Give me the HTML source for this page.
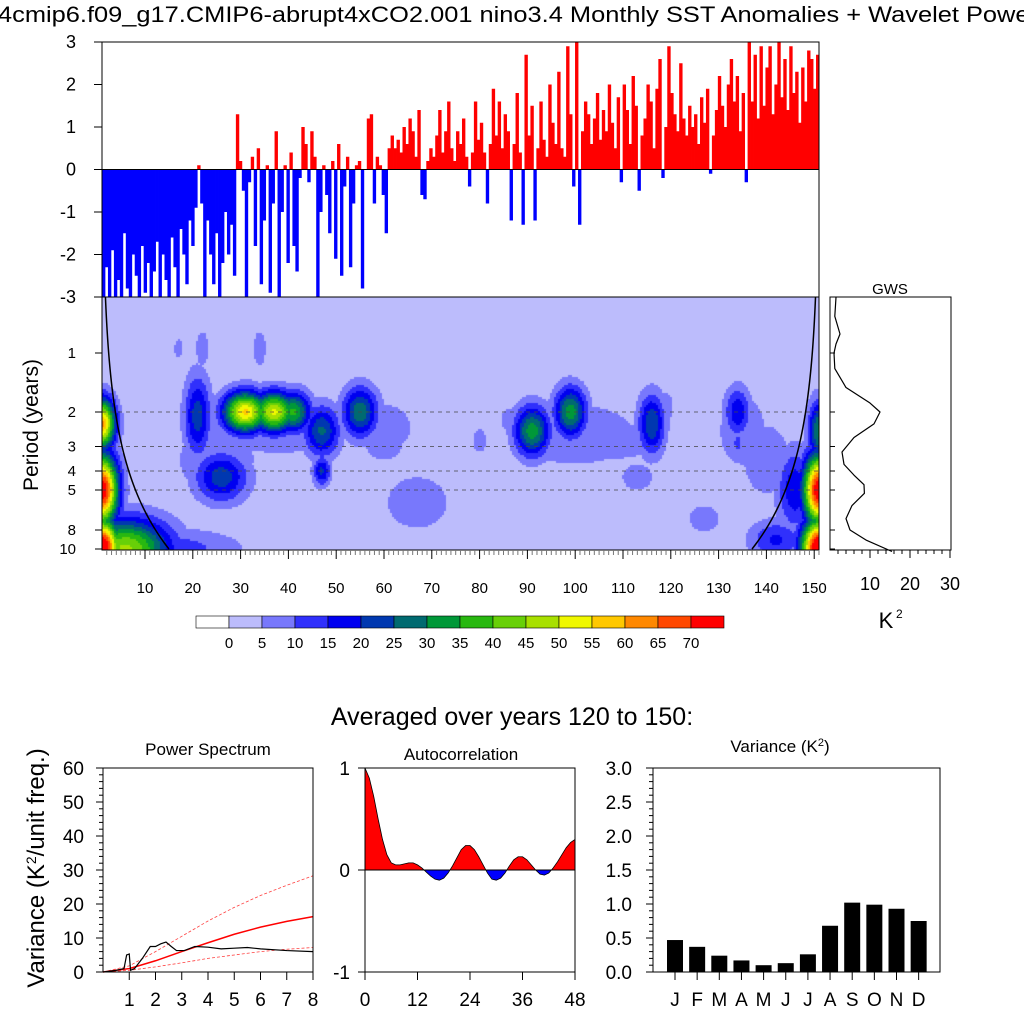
<!DOCTYPE html>
<html><head><meta charset="utf-8">
<style>
body{margin:0;background:#fff;width:1024px;height:1024px;overflow:hidden;position:relative;font-family:"Liberation Sans",sans-serif;}
#wav{position:absolute;left:102px;top:297px;}
#svg{position:absolute;left:0;top:0;}
text{font-family:"Liberation Sans",sans-serif;fill:#000;}
</style></head>
<body>
<canvas id="wav" width="717" height="253"></canvas>
<svg id="svg" width="1024" height="1024" xmlns="http://www.w3.org/2000/svg"></svg>
<script>
// ---------- DATA ----------
const sstAnom = [-3,-2.3,-3,-1.9,-3,-2.6,-3,-1.5,-2.8,-3,-2,-2.5,-3,-1.8,-2.9,-2.2,-3,-2.4,-1.7,-3,-2.0,-2.6,-3,-1.6,-2.3,-3,-1.4,-2.0,-2.7,-1.2,-1.8,-0.9,
0.1,-0.8,-3,-1.2,-2.0,-2.7,-1.5,-3,-2.2,-1.0,-2.0,-1.3,-2.5,
1.3,0.2,-0.5,-3,-0.3,0.3,-1.8,0.5,-2.7,-1.2,0.1,-2.9,-0.8,0.9,-3,-1.0,0.1,-2.2,0.4,-1.8,-2.4,-0.2,1.0,0.6,-0.3,0.9,0.3,-3.0,-1.0,0.1,-0.6,-1.5,0.2,-2.1,0.6,-2.5,-0.4,0.3,-2.3,-0.8,0.1,0.2,-2.8,0.0,1.2,1.3,-0.8,0.3,0.1,-0.6,-1.5,0.5,0.8,
0.5,0.7,0.4,1.0,0.6,1.2,0.9,0.3,1.4,-0.6,-0.7,0.2,0.5,0.3,0.8,1.4,0.4,0.9,1.6,0.5,0.2,0.9,0.6,1.2,0.3,-0.4,0.4,1.6,0.7,1.1,0.4,-0.8,0.6,1.9,0.8,1.6,0.5,1.3,0.9,-1.2,0.6,1.8,0.4,-1.3,2.7,0.8,1.5,-1.2,0.5,1.6,0.7,0.3,2.0,1.1,0.6,2.3,0.5,0.3,2.9,1.3,-0.4,3.0,-1.3,
0.9,1.6,1.3,0.6,1.2,1.8,0.7,1.4,0.9,2.0,1.1,0.5,1.7,-0.3,2.0,1.4,0.6,2.2,1.5,-0.5,0.8,1.2,2.0,1.6,0.5,1.9,2.6,-0.2,1.0,2.9,1.8,1.3,0.9,2.5,1.2,0.8,1.5,1.0,1.3,0.6,1.7,1.1,1.9,-0.1,0.8,1.4,2.2,1.5,1.0,2.0,2.6,1.6,2.2,0.9,1.8,-0.3,3.0,1.6,2.7,1.2,2.9,1.5,2.4,2.9,1.3,2.0,3.0,1.7,2.6,1.4,2.9,1.8,2.3,1.1,2.4,1.6,2.8,2.6,1.9,2.7];
const topTicks = [-3,-2,-1,0,1,2,3];

// wavelet power blobs (year, period, peak power, year spread, octave spread)
const blobYear   = [1,1,1,6,15,21,26,31,37,41,47,47,55,17,22,34,67,60,91,99,116,134,134,113,127,105,151,151,151,146,142,86,80,119,38,25,100,135,60,140];
const blobPeriod = [5,10,2.3,10,10,2.1,4.3,2,2,2,2.5,4,2.0,0.95,0.95,0.95,5.8,2.7,2.5,2.0,2.3,2.0,2.9,4.3,7,2.8,5,10,2.5,5,9,2.2,2.8,1.9,2.3,3.5,2.6,2.5,2.4,3.5];
const blobPower  = [75,80,60,45,12,22,22,55,50,35,25,20,28,7,8,8,8,7,32,32,24,18,10,8,8,7,75,80,30,18,15,7,7,7,8,8,8,8,7,8];
const blobSx     = [1.8,2,1.5,5,8,1.5,3,2.5,2.5,2,2,1,2,0.6,0.8,0.8,4,3,2,1.8,1.5,1.5,1,2,2,10,1.8,2,1.2,2,3,1,1,1,8,5,8,3,4,3];
const blobSy     = [0.35,0.3,0.25,0.3,0.2,0.4,0.25,0.2,0.2,0.2,0.25,0.15,0.25,0.12,0.2,0.2,0.3,0.3,0.25,0.25,0.3,0.25,0.2,0.15,0.15,0.25,0.35,0.3,0.3,0.4,0.2,0.15,0.15,0.2,0.35,0.4,0.35,0.4,0.3,0.4];
const levelColors = ["#ffffff","#bcbcfc","#7878fc","#3030fc","#0000f0","#0038b0","#006a70","#009838","#28b810","#68d008","#a8e000","#f0f800","#ffc800","#ff8800","#ff4800","#ff0000"];
const levelLabels = ["0","5","10","15","20","25","30","35","40","45","50","55","60","65","70"];
const periodTicks = [1,2,3,4,5,8,10];
const yearTicks = [10,20,30,40,50,60,70,80,90,100,110,120,130,140,150];

const gwsPeriod = [0.52,0.65,0.8,0.9,1.0,1.2,1.5,1.8,2.0,2.3,2.7,3.2,3.7,4.2,4.7,5.2,6,7,8,9,10.3];
const gwsValue  = [1.5,1.2,2.5,1.5,1.0,1.2,4,10,12.5,11,6,3,3.5,6,8.5,8.6,5.5,4,5,9,15.5];

const psFreq  = [0,0.5,0.8,0.9,1.0,1.05,1.2,1.5,1.8,2.0,2.2,2.4,2.6,2.8,3.1,3.5,4,4.5,5,5.5,6,7,8];
const psPower = [0,0.5,1,5,5.3,0.5,1,4,7.5,7.5,8.3,8.8,7.5,6.3,6.3,7.5,7.3,6.8,7.0,7.2,6.8,6.3,6.0];
const redFreq = [0,1,2,3,4,5,6,7,8];
const redMean = [0,1,3.3,6,8.6,11.1,13.2,14.9,16.3];
const redHigh = [0,1.8,6,10.5,15,19,22.5,25.5,28.3];
const redLow  = [0,0.5,1.5,2.7,4,5,6,6.7,7.2];

const acLag = [0,1,2,3,4,5,6,7,8,9,10,11,12,13,14,15,16,17,18,19,20,21,22,23,24,25,26,27,28,29,30,31,32,33,34,35,36,37,38,39,40,41,42,43,44,45,46,47,48];
const acVal = [1,0.9,0.72,0.5,0.3,0.15,0.07,0.05,0.05,0.06,0.07,0.07,0.05,0.02,-0.02,-0.06,-0.09,-0.1,-0.08,-0.03,0.04,0.12,0.2,0.24,0.24,0.2,0.13,0.05,-0.03,-0.09,-0.1,-0.08,-0.03,0.04,0.1,0.13,0.13,0.1,0.05,0.0,-0.04,-0.05,-0.03,0.02,0.08,0.15,0.22,0.27,0.3];

const months = ["J","F","M","A","M","J","J","A","S","O","N","D"];
const monthVar = [0.47,0.37,0.24,0.17,0.10,0.13,0.26,0.68,1.02,0.99,0.93,0.75];

// ---------- HELPERS ----------
const NS="http://www.w3.org/2000/svg";
const svg=document.getElementById('svg');
function mk(tag,attrs,parent){const e=document.createElementNS(NS,tag);for(const k in attrs)e.setAttribute(k,attrs[k]);(parent||svg).appendChild(e);return e;}
function txt(x,y,s,size,anchor,parent){const t=mk('text',{x:x,y:y,'font-size':size,'text-anchor':anchor||'middle'},parent);t.textContent=s;return t;}

let t=txt(-2,22,"4cmip6.f09_g17.CMIP6-abrupt4xCO2.001 nino3.4 Monthly SST Anomalies + Wavelet Power",22,'start');
t.setAttribute('textLength','1040');
t.setAttribute('lengthAdjust','spacingAndGlyphs');



// ---------- TOP: SST anomalies ----------
const TX0=102,TX1=819,TY0=42,TY1=297;
const ty=v=>TY0+(3-v)/6*(TY1-TY0);
const gTop=mk('g',{});


const bw=(TX1-TX0)/sstAnom.length;
sstAnom.forEach((v,i)=>{
  const c=Math.max(-3,Math.min(3,v));
  const r=mk('rect',{x:TX0+i*bw,y:Math.min(ty(0),ty(c)),width:bw+0.4,height:Math.abs(ty(c)-ty(0)),fill:c>=0?'#ff0000':'#0000ff'},gTop);
  
  
});
mk('line',{x1:TX0,x2:TX1,y1:ty(0),y2:ty(0),stroke:'#000','stroke-width':1},gTop);
mk('rect',{x:TX0,y:TY0,width:TX1-TX0,height:TY1-TY0,fill:'none',stroke:'#000','stroke-width':1},gTop);
topTicks.forEach(v=>{
  mk('line',{x1:TX0-8,x2:TX0,y1:ty(v),y2:ty(v),stroke:'#000'},gTop);
  const l=txt(76,ty(v)+6,String(v),18,'end',gTop);
  
  
});

// ---------- WAVELET ----------
const WX0=102,WX1=819,WY0=297,WY1=550;
const wx=yr=>97.2+4.78*yr;
const wy=p=>353+59*Math.log2(p);
const invYear=x=>(x-97.2)/4.78;
const invPer=y=>Math.pow(2,(y-353)/59);
function power(yr,p){
  let s=0;const lp=Math.log2(p);
  for(let i=0;i<blobYear.length;i++){
    const dx=(yr-blobYear[i])/(blobSx[i]*1.3), dy=(lp-Math.log2(blobPeriod[i]))/(blobSy[i]*1.2);
    s=Math.max(s,blobPower[i]*Math.exp(-0.5*(dx*dx+dy*dy)));
  }
  return 1+s;
}
const cv=document.getElementById('wav');const ctx=cv.getContext('2d');
for(let py=0;py<253;py+=2){for(let px=0;px<717;px+=2){
  const P=power(invYear(WX0+px+1),invPer(WY0+py+1));
  const idx=Math.min(15,Math.floor(P/5)+1);
  ctx.fillStyle=levelColors[idx];ctx.fillRect(px,py,2,2);
}}
const gW=mk('g',{});


[2,3,4,5].forEach(p=>mk('line',{x1:WX0,x2:WX1,y1:wy(p),y2:wy(p),stroke:'#444','stroke-dasharray':'4,4','stroke-width':0.8},gW));
let coiL='',coiR='';
for(let y=WY0;y<=WY1;y+=3){const p=invPer(y);const d=p/0.714;coiL+=(coiL?'L':'M')+wx(1+d)+','+y;coiR+=(coiR?'L':'M')+wx(151-d)+','+y;}
const c1=mk('path',{d:coiL,fill:'none',stroke:'#000','stroke-width':1.5},gW);


const c2=mk('path',{d:coiR,fill:'none',stroke:'#000','stroke-width':1.5},gW);


mk('rect',{x:WX0,y:WY0,width:WX1-WX0,height:WY1-WY0,fill:'none',stroke:'#000'},gW);
periodTicks.forEach(p=>{mk('line',{x1:WX0-7,x2:WX0,y1:wy(p),y2:wy(p),stroke:'#000'},gW);txt(76,wy(p)+5,String(p),15,'end',gW);});
for(let yr=2;yr<=151;yr++){const maj=yr%10===0;mk('line',{x1:wx(yr),x2:wx(yr),y1:WY1,y2:WY1+(maj?9:5),stroke:maj?'#000':'#777'},gW);}
yearTicks.forEach(yr=>txt(wx(yr),593,String(yr),15,'middle',gW));
const pl=txt(0,0,"Period (years)",21,'middle',gW);
pl.setAttribute('transform','translate(38,425) rotate(-90)');



// ---------- GWS ----------
const GX0=830,GX1=951;
const gx=v=>GX0+4*v;
const gG=mk('g',{});


mk('rect',{x:GX0,y:WY0,width:GX1-GX0,height:WY1-WY0,fill:'none',stroke:'#000'},gG);
const gd=gwsPeriod.map((p,i)=>(i?'L':'M')+gx(gwsValue[i])+','+wy(p)).join('');
const gl=mk('path',{d:gd,fill:'none',stroke:'#000','stroke-width':1.2,'stroke-linejoin':'round'},gG);


txt(890,294,"GWS",15,'middle',gG);
[10,20,30].forEach(v=>{mk('line',{x1:gx(v),x2:gx(v),y1:WY1,y2:WY1+8,stroke:'#000'},gG);txt(gx(v),590,String(v),18,'middle',gG);});
for(let v=2;v<30;v+=2){if(v%10)mk('line',{x1:gx(v),x2:gx(v),y1:WY1,y2:WY1+4,stroke:'#000'},gG);}
periodTicks.forEach(p=>mk('line',{x1:GX0,x2:GX0+5,y1:wy(p),y2:wy(p),stroke:'#000'},gG));
txt(886,628,"K",22,'middle',gG);
txt(896,618,"2",12,'start',gG);

// ---------- COLORBAR ----------
const gC=mk('g',{});


levelColors.forEach((c,i)=>{const r=mk('rect',{x:196+i*33,y:616,width:33,height:12,fill:c,stroke:'#000','stroke-width':0.6},gC);

});
levelLabels.forEach((s,i)=>txt(229+i*33,648,s,15,'middle',gC));

// ---------- BOTTOM ----------
txt(512,725,"Averaged over years 120 to 150:",25,'middle');
const yl=txt(0,0,"",24,'middle');
yl.innerHTML='Variance (K<tspan baseline-shift="super" font-size="14">2</tspan>/unit freq.)';
yl.setAttribute('transform','translate(44,868) rotate(-90)');



const BY0=768,BY1=972;
const PX0=103,PX1=313;
const px=f=>PX0+f*(PX1-PX0)/8, py=v=>BY1-v*(BY1-BY0)/60;
const gP=mk('g',{});


txt(208,755,"Power Spectrum",17,'middle',gP);
const line=(xs,ys,fx,fy)=>xs.map((x,i)=>(i?'L':'M')+fx(x)+','+fy(ys[i])).join('');
let e;
e=mk('path',{d:line(redFreq,redHigh,px,py),fill:'none',stroke:'#ff4040','stroke-width':0.8,'stroke-dasharray':'3,2'},gP);


e=mk('path',{d:line(redFreq,redLow,px,py),fill:'none',stroke:'#ff4040','stroke-width':0.8,'stroke-dasharray':'3,2'},gP);


e=mk('path',{d:line(redFreq,redMean,px,py),fill:'none',stroke:'#ff0000','stroke-width':1.5},gP);


e=mk('path',{d:line(psFreq,psPower,px,py),fill:'none',stroke:'#000','stroke-width':1.2},gP);


mk('rect',{x:PX0,y:BY0,width:PX1-PX0,height:BY1-BY0,fill:'none',stroke:'#000'},gP);
[0,10,20,30,40,50,60].forEach(v=>{mk('line',{x1:PX0-7,x2:PX0,y1:py(v),y2:py(v),stroke:'#000'},gP);txt(84,py(v)+7,String(v),19,'end',gP);});
for(let v=2;v<60;v+=2)if(v%10)mk('line',{x1:PX0-4,x2:PX0,y1:py(v),y2:py(v),stroke:'#000'},gP);
[1,2,3,4,5,6,7,8].forEach(f=>{mk('line',{x1:px(f),x2:px(f),y1:BY1,y2:BY1+8,stroke:'#000'},gP);txt(px(f),1006,String(f),19,'middle',gP);});

const AX0=365,AX1=575;
const ax=l=>AX0+l*(AX1-AX0)/48, ay=v=>870-v*(BY1-BY0)/2;
const gA=mk('g',{});


txt(461,760,"Autocorrelation",17,'middle',gA);
const cp=mk('clipPath',{id:'cpos'},gA);mk('rect',{x:AX0,y:BY0,width:AX1-AX0,height:870-BY0},cp);
const cn=mk('clipPath',{id:'cneg'},gA);mk('rect',{x:AX0,y:870,width:AX1-AX0,height:BY1-870},cn);
const area='M'+ax(0)+','+ay(0)+acLag.map((l,i)=>'L'+ax(l)+','+ay(acVal[i])).join('')+'L'+ax(48)+','+ay(0)+'Z';
e=mk('path',{d:area,fill:'#ff0000','clip-path':'url(#cpos)'},gA);


e=mk('path',{d:area,fill:'#0000ff','clip-path':'url(#cneg)'},gA);


mk('path',{d:line(acLag,acVal,ax,ay),fill:'none',stroke:'#000','stroke-width':0.8},gA);
mk('line',{x1:AX0,x2:AX1,y1:870,y2:870,stroke:'#000'},gA);
mk('rect',{x:AX0,y:BY0,width:AX1-AX0,height:BY1-BY0,fill:'none',stroke:'#000'},gA);
[[1,'1'],[0,'0'],[-1,'-1']].forEach(([v,s])=>{mk('line',{x1:AX0-7,x2:AX0,y1:ay(v),y2:ay(v),stroke:'#000'},gA);txt(350,ay(v)+7,s,19,'end',gA);});
[0,12,24,36,48].forEach(l=>{mk('line',{x1:ax(l),x2:ax(l),y1:BY1,y2:BY1+8,stroke:'#000'},gA);txt(ax(l),1006,String(l),19,'middle',gA);});

const VX0=653,VX1=940;
const vx=i=>675+i*22.15, vy=v=>BY1-v*(BY1-BY0)/3;
const gV=mk('g',{});


const vt=txt(780,752,"",17,'middle',gV);
vt.innerHTML='Variance (K<tspan baseline-shift="super" font-size="11">2</tspan>)';
monthVar.forEach((v,i)=>{const r=mk('rect',{x:vx(i)-8,y:vy(v),width:16,height:BY1-vy(v),fill:'#000'},gV);

});
mk('rect',{x:VX0,y:BY0,width:VX1-VX0,height:BY1-BY0,fill:'none',stroke:'#000'},gV);
[0,0.5,1,1.5,2,2.5,3].forEach(v=>{mk('line',{x1:VX0-7,x2:VX0,y1:vy(v),y2:vy(v),stroke:'#000'},gV);txt(632,vy(v)+7,v.toFixed(1),19,'end',gV);});
for(let v=0.1;v<3;v+=0.1){if(Math.abs(v*2-Math.round(v*2))>0.01)mk('line',{x1:VX0-4,x2:VX0,y1:vy(v),y2:vy(v),stroke:'#000'},gV);}
months.forEach((m,i)=>{mk('line',{x1:vx(i),x2:vx(i),y1:BY1,y2:BY1+8,stroke:'#000'},gV);txt(vx(i),1006,m,19,'middle',gV);});
</script>
</body></html>
